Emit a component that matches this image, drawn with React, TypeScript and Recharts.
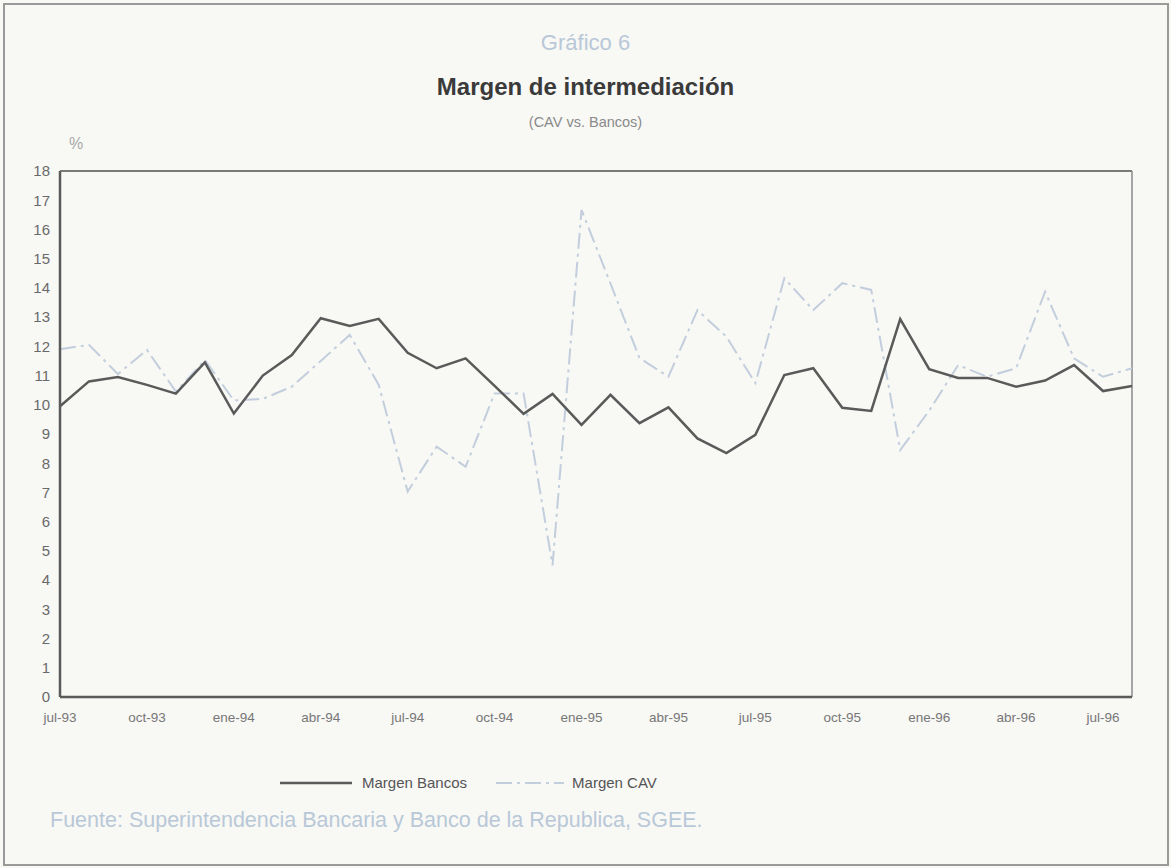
import { Line, LineChart, ReferenceLine, XAxis, YAxis } from "recharts";

const meses = [
  "jul-93", "ago-93", "sep-93", "oct-93", "nov-93", "dic-93",
  "ene-94", "feb-94", "mar-94", "abr-94", "may-94", "jun-94",
  "jul-94", "ago-94", "sep-94", "oct-94", "nov-94", "dic-94",
  "ene-95", "feb-95", "mar-95", "abr-95", "may-95", "jun-95",
  "jul-95", "ago-95", "sep-95", "oct-95", "nov-95", "dic-95",
  "ene-96", "feb-96", "mar-96", "abr-96", "may-96", "jun-96",
  "jul-96", "ago-96",
];

const margenBancos = [
  9.95, 10.8, 10.95, 10.68, 10.38, 11.45, 9.7, 11.0, 11.7, 12.96, 12.7, 12.94,
  11.78, 11.25, 11.59, 10.65, 9.69, 10.37, 9.31, 10.34, 9.37, 9.91, 8.85, 8.35,
  8.97, 11.02, 11.25, 9.9, 9.79, 12.93, 11.22, 10.92, 10.92, 10.62, 10.83, 11.36,
  10.47, 10.64,
];

const margenCAV = [
  11.9, 12.05, 11.05, 11.88, 10.45, 11.53, 10.15, 10.2, 10.62, 11.5, 12.39, 10.68,
  7.03, 8.57, 7.88, 10.39, 10.39, 4.5, 16.67, 14.15, 11.6, 10.96, 13.24, 12.33,
  10.74, 14.33, 13.24, 14.16, 13.93, 8.45, 9.8, 11.36, 10.96, 11.25, 13.87, 11.59,
  10.96, 11.25,
];

const yTicks = [0, 1, 2, 3, 4, 5, 6, 7, 8, 9, 10, 11, 12, 13, 14, 15, 16, 17, 18];

const data = meses.map((mes, i) => ({
  mes,
  bancos: margenBancos[i],
  cav: margenCAV[i],
}));

const font = '"Liberation Sans Narrow", "Liberation Sans", Arial, sans-serif';
const dark = "#5a5a5a";
const cavColor = "#c3cedd";

function LegendBox() {
  return (
    <div style={{ position: "absolute", left: 280, top: 774, display: "flex", alignItems: "center", fontSize: 15, color: "#555" }}>
      <svg width={72} height={6}>
        <line x1={0} y1={3} x2={72} y2={3} stroke={dark} strokeWidth={2.5} />
      </svg>
      <span style={{ marginLeft: 10, marginRight: 29 }}>Margen Bancos</span>
      <svg width={68} height={6}>
        <line x1={0} y1={3} x2={68} y2={3} stroke={cavColor} strokeWidth={2} strokeDasharray="16 5 3 5" />
      </svg>
      <span style={{ marginLeft: 8 }}>Margen CAV</span>
    </div>
  );
}

export default function App() {
  return (
    <div style={{ position: "absolute", left: 0, top: 0, width: 1171, height: 868, background: "#f8f8f5", fontFamily: font, overflow: "hidden" }}>
      <div style={{ position: "absolute", left: 3, top: 3, width: 1162, height: 859, border: "2px solid #9a9a9a" }} />
      <div style={{ position: "absolute", left: 0, width: 1171, top: 30, textAlign: "center", fontSize: 22, color: "#b9c8d8" }}>Gráfico 6</div>
      <div style={{ position: "absolute", left: 0, width: 1171, top: 73, textAlign: "center", fontSize: 24, fontWeight: "bold", color: "#3a3a3a" }}>
        Margen de intermediación
      </div>
      <div style={{ position: "absolute", left: 0, width: 1171, top: 114, textAlign: "center", fontSize: 14.5, color: "#8a8a8a" }}>(CAV vs. Bancos)</div>
      <div style={{ position: "absolute", left: 69, top: 135, fontSize: 16, color: "#a8a8a8" }}>%</div>
      <div style={{ position: "absolute", left: 50, top: 808, fontSize: 21.5, color: "#b9c8d8" }}>
        Fuente: Superintendencia Bancaria y Banco de la Republica, SGEE.
      </div>
      <LegendBox />
      <LineChart
        width={1171}
        height={868}
        data={data}
        margin={{ top: 171, right: 39, bottom: 141, left: 30 }}
        style={{ position: "absolute", left: 0, top: 0 }}
      >
        <XAxis
          dataKey="mes"
          interval={2}
          tickLine={false}
          tickSize={0}
          tickMargin={15}
          height={30}
          axisLine={{ stroke: dark, strokeWidth: 2.5 }}
          tick={{ fontSize: 13.5, fill: "#777", fontFamily: font }}
        />
        <YAxis
          domain={[0, 18]}
          ticks={yTicks}
          interval={0}
          width={30}
          tickLine={false}
          tickSize={0}
          tickMargin={10}
          axisLine={{ stroke: dark, strokeWidth: 2.5 }}
          tick={{ fontSize: 15, fill: "#6a6a6a", fontFamily: font }}
        />
        <ReferenceLine y={18} stroke="#7a7a7a" strokeWidth={2} />
        <ReferenceLine x="ago-96" stroke="#8a8a8a" strokeWidth={1.5} />
        <Line
          dataKey="cav"
          name="Margen CAV"
          stroke={cavColor}
          strokeWidth={2}
          strokeDasharray="16 5 3 5"
          dot={false}
          type="linear"
          isAnimationActive={false}
        />
        <Line
          dataKey="bancos"
          name="Margen Bancos"
          stroke={dark}
          strokeWidth={2.5}
          dot={false}
          type="linear"
          isAnimationActive={false}
        />
      </LineChart>
    </div>
  );
}
